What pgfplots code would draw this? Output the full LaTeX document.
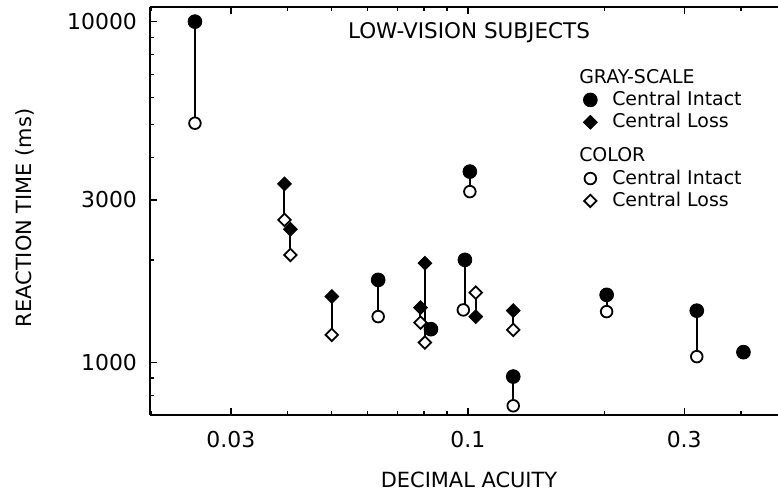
\documentclass[border=0pt]{standalone}
\usepackage{fontspec}
\setmainfont{DejaVu Sans}
\usepackage{pgfplots}
\pgfplotsset{compat=1.18}
\usetikzlibrary{calc}

\begin{document}
\begin{tikzpicture}
\begin{loglogaxis}[
    scale only axis,
    width=314bp, height=204bp,
    xmin=0.0199, xmax=0.483,
    ymin=702, ymax=11040,
    axis x line*=box, axis y line*=left,
    axis line style={line width=0.9bp},
    tick align=inside,
    major tick length=3.5bp, minor tick length=2bp,
    tick style={line width=0.7bp, black},
    xtick={0.03,0.1,0.3}, xticklabels={0.03,0.1,0.3},
    minor xtick={0.02,0.04,0.05,0.06,0.07,0.08,0.09,0.2,0.4},
    ytick={1000,3000,10000}, yticklabels={1000,3000,10000},
    minor ytick={800,900,2000,4000,5000,6000,7000,8000,9000},
    ticklabel style={font=\fontsize{11}{13}\selectfont},
    xticklabel style={yshift=-4.5bp},
    yticklabel style={xshift=-3bp},
    xlabel={DECIMAL ACUITY},
    ylabel={REACTION TIME (ms)},
    label style={font=\fontsize{10.5}{13}\selectfont},
    xlabel style={at={(axis description cs:0.508,-0.159)}, anchor=center},
    ylabel style={at={(axis description cs:-0.199,0.483)}, anchor=center},
    clip=false,
    legend style={at={(axis description cs:0.664,0.868)}, anchor=north west,
        draw=none, fill=none, font=\fontsize{9.5}{11}\selectfont,
        row sep=-1.5bp,
        /tikz/every odd column/.append style={column sep=5.5bp}},
    legend cell align=left,
]
% connecting lines (gray-scale to color for each subject)
\addplot[forget plot, black, line width=1bp, unbounded coords=jump] coordinates {
    (0.0250,10000) (0.0250,5036) (0.0250,nan)
    (0.0634,1748) (0.0634,1364) (0.0634,nan)
    (0.0985,2001) (0.0985,1427) (0.0985,nan)
    (0.1010,3632) (0.1010,3173) (0.1010,nan)
    (0.1259,910) (0.1259,747) (0.1259,nan)
    (0.2023,1580) (0.2023,1411) (0.2023,nan)
    (0.3198,1420) (0.3198,1041) (0.3198,nan)
    (0.0394,3342) (0.0394,2621) (0.0394,nan)
    (0.0406,2462) (0.0406,2069) (0.0406,nan)
    (0.0501,1562) (0.0501,1206) (0.0501,nan)
    (0.0786,1450) (0.0786,1310) (0.0786,nan)
    (0.0804,1957) (0.0804,1145) (0.0804,nan)
    (0.1041,1604) (0.1041,1364) (0.1041,nan)
    (0.1259,1420) (0.1259,1247)
};
% color, central intact
\addplot[forget plot, only marks, mark=*, mark size=2.9bp,
    mark options={fill=white, draw=black, line width=0.9bp}] coordinates {
    (0.0250,5036) (0.0634,1364) (0.0829,1253) (0.0977,1427) (0.1010,3173)
    (0.1259,747) (0.2023,1411) (0.3198,1041) (0.4053,1073)
};
% color, central loss
\addplot[forget plot, only marks, mark=square*, mark size=2.2bp,
    mark options={rotate=45, fill=white, draw=black, line width=0.9bp}] coordinates {
    (0.0394,2621) (0.0406,2069) (0.0501,1206) (0.0786,1310) (0.0804,1145)
    (0.1041,1604) (0.1259,1247)
};
% gray-scale, central loss
\addplot[forget plot, only marks, mark=square*, mark size=2.45bp,
    mark options={rotate=45, fill=black, draw=black}] coordinates {
    (0.0394,3342) (0.0406,2462) (0.0501,1562) (0.0786,1450) (0.0804,1957)
    (0.1041,1364) (0.1259,1420)
};
% gray-scale, central intact
\addplot[forget plot, only marks, mark=*, mark size=3.45bp,
    mark options={fill=black, draw=black}] coordinates {
    (0.0250,10000) (0.0634,1748) (0.0829,1253) (0.0985,2001) (0.1010,3632)
    (0.1259,910) (0.2023,1580) (0.3198,1420) (0.4053,1073)
};

\addlegendimage{empty legend}
\addlegendentry{\hspace*{-16.5bp}GRAY-SCALE}
\addlegendimage{only marks, mark=*, mark size=3.45bp, mark options={fill=black, draw=black}}
\addlegendentry{Central Intact}
\addlegendimage{only marks, mark=square*, mark size=2.45bp, mark options={rotate=45, fill=black, draw=black}}
\addlegendentry{Central Loss}
\addlegendimage{empty legend}
\addlegendentry{\hspace*{-16.5bp}\rule{0pt}{13bp}COLOR}
\addlegendimage{only marks, mark=*, mark size=2.9bp, mark options={fill=white, draw=black, line width=0.9bp}}
\addlegendentry{Central Intact}
\addlegendimage{only marks, mark=square*, mark size=2.2bp, mark options={rotate=45, fill=white, draw=black, line width=0.9bp}}
\addlegendentry{Central Loss}

\node[font=\fontsize{10.8}{13}\selectfont] at (axis description cs:0.508,0.936) {LOW-VISION SUBJECTS};
\coordinate (ll) at (rel axis cs:0,0);
\coordinate (ur) at (rel axis cs:1,1);
\end{loglogaxis}
\pgfresetboundingbox
\path[use as bounding box] ($(ll)+(-75bp,-39bp)$) rectangle ($(ur)+(0,3.5bp)$);
\end{tikzpicture}
\end{document}
